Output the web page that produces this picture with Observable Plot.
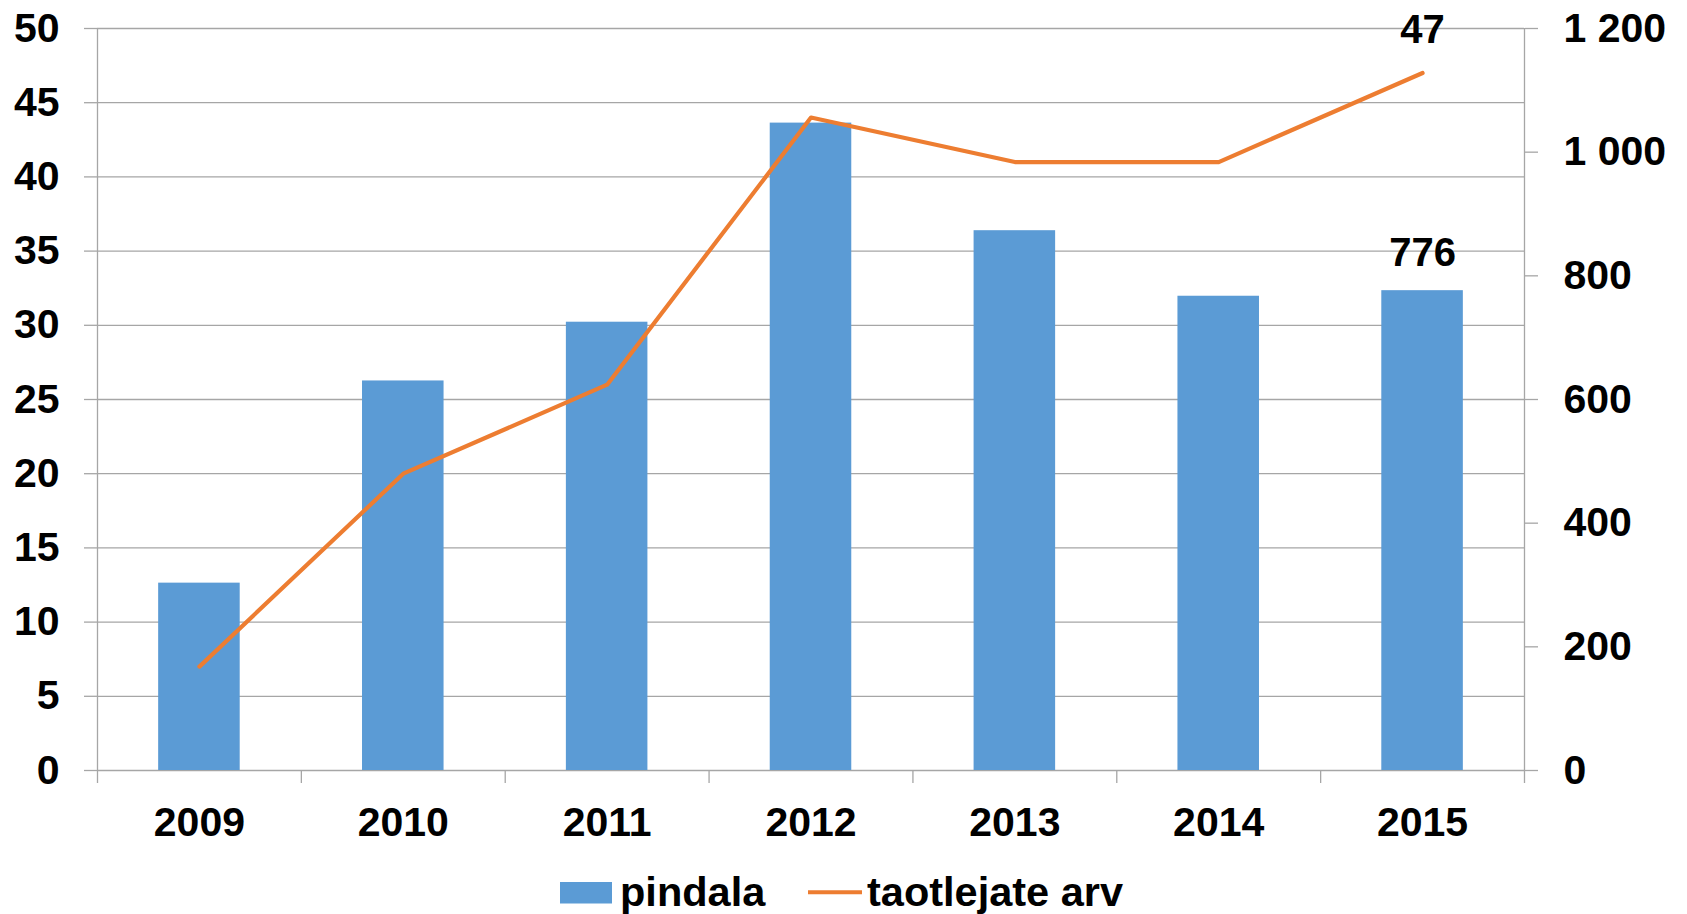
<!DOCTYPE html>
<html>
<head>
<meta charset="utf-8">
<script src="https://cdn.jsdelivr.net/npm/d3@7"></script>
<script src="https://cdn.jsdelivr.net/npm/@observablehq/plot@0.6"></script>
<style>
  html, body { margin: 0; padding: 0; background: #fff; }
  #wrap { position: relative; width: 1687px; height: 914px; overflow: hidden; }
  #chart svg { display: block; }
  #legend { position: absolute; left: 0; top: 850px; }
</style>
</head>
<body>
<div id="wrap">
  <div id="chart"></div>
  <svg id="legend" width="1687" height="64"></svg>
</div>
<script>
// ---- data ----
const years = ["2009", "2010", "2011", "2012", "2013", "2014", "2015"];
const pindala = [303, 630, 725, 1047, 873, 767, 776];      // right axis (0–1200)
const taotlejateArv = [7, 20, 26, 44, 41, 41, 47];          // left axis (0–50)
const leftTicks = [0, 5, 10, 15, 20, 25, 30, 35, 40, 45, 50];
const rightTicks = [0, 200, 400, 600, 800, 1000, 1200];
const seriesNames = ["pindala", "taotlejate arv"];
const colors = ["#5B9BD5", "#ED7D31"];

const leftMax = 50, rightMax = 1200;
const toLeft = v => v * leftMax / rightMax;
const grid = "#a6a6a6";
const fmtRight = v => d3.format(",")(Math.round(v)).replace(/,/g, " ");

const idx = years.map((_, i) => i);

const chart = Plot.plot({
  width: 1687,
  height: 850,
  marginLeft: 97,
  marginRight: 163,
  marginTop: 28,
  marginBottom: 80,
  x: { type: "linear", domain: [0, years.length], axis: null },
  y: { domain: [0, leftMax], axis: null },
  style: {
    fontFamily: "'Liberation Sans', Arial, sans-serif",
    fontWeight: "bold",
    fontSize: "41px",
    color: "#000",
    background: "#fff",
    overflow: "visible"
  },
  marks: [
    // horizontal gridlines
    Plot.ruleY(leftTicks, { stroke: grid, strokeWidth: 1.3 }),
    // left & right axis lines (extend below baseline as ticks)
    Plot.ruleX([0, years.length], { stroke: grid, strokeWidth: 1.3, insetBottom: -13 }),
    // category boundary ticks
    Plot.ruleX(d3.range(1, years.length), { stroke: grid, strokeWidth: 1.3, insetTop: 742, insetBottom: -13 }),
    // bars (pindala, mapped onto the right axis)
    Plot.rectY(idx, {
      x1: i => i + 0.3,
      x2: i => i + 0.7,
      y1: 0,
      y2: i => toLeft(pindala[i]),
      fill: colors[0]
    }),
    // line (taotlejate arv)
    Plot.line(idx, {
      x: i => i + 0.5,
      y: i => taotlejateArv[i],
      stroke: colors[1],
      strokeWidth: 4.2,
      strokeLinejoin: "round",
      strokeLinecap: "round"
    }),
    // left axis
    Plot.axisY(leftTicks, {
      anchor: "left", tickSize: 13, tickPadding: 25,
      stroke: grid, strokeWidth: 1.3, fill: "#000",
      tickFormat: d => String(d)
    }),
    // right axis (pindala scale)
    Plot.axisY(rightTicks.map(toLeft), {
      anchor: "right", tickSize: 13, tickPadding: 26,
      stroke: grid, strokeWidth: 1.3, fill: "#000",
      tickFormat: d => fmtRight(d * rightMax / leftMax)
    }),
    // x axis labels
    Plot.axisX(idx.map(i => i + 0.5), {
      anchor: "bottom", tickSize: 0, tickPadding: 36,
      fill: "#000",
      tickFormat: d => years[Math.floor(d)]
    }),
    // data labels for last year
    Plot.text([years.length - 1], {
      x: i => i + 0.5,
      y: i => taotlejateArv[i],
      text: i => String(taotlejateArv[i]),
      dy: -43,
      fill: "#000",
      fontSize: 40
    }),
    Plot.text([years.length - 1], {
      x: i => i + 0.5,
      y: i => toLeft(pindala[i]),
      text: i => String(pindala[i]),
      dy: -37,
      fill: "#000",
      fontSize: 40
    })
  ]
});
document.getElementById("chart").appendChild(chart);

// ---- legend ----
const lg = d3.select("#legend");
const font = "'Liberation Sans', Arial, sans-serif";
lg.append("rect").attr("x", 560).attr("y", 32).attr("width", 52).attr("height", 21.5).attr("fill", colors[0]);
lg.append("text").attr("x", 620).attr("y", 55.5).attr("font-family", font).attr("font-weight", "bold")
  .attr("font-size", 41.5).attr("fill", "#000").text(seriesNames[0]);
lg.append("line").attr("x1", 808).attr("x2", 862).attr("y1", 42.3).attr("y2", 42.3)
  .attr("stroke", colors[1]).attr("stroke-width", 4);
lg.append("text").attr("x", 867).attr("y", 55.5).attr("font-family", font).attr("font-weight", "bold")
  .attr("font-size", 41.5).attr("fill", "#000").text(seriesNames[1]);
</script>
</body>
</html>
